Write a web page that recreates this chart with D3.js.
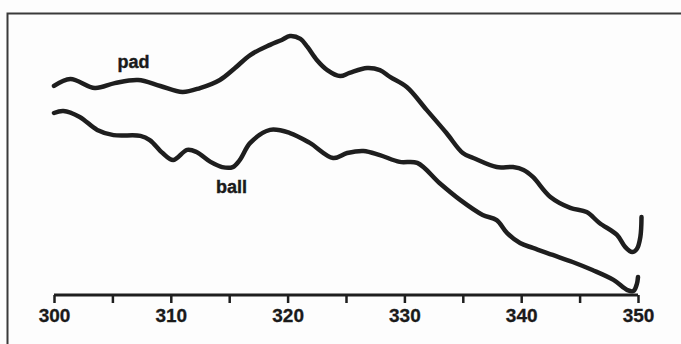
<!DOCTYPE html>
<html lang="en">
<head>
    <meta charset="UTF-8">
    <title>pad / ball spectra</title>
    <style>
        body, html {
            margin: 0;
            padding: 0;
            background: #fdfdfd;
            overflow: hidden;
        }
        svg { display: block; }
        .trace {
            fill: none;
            stroke: #1e1e1e;
            stroke-width: 4.5px;
            stroke-linejoin: round;
            stroke-linecap: round;
        }
        .label {
            font-family: 'Liberation Sans', Arial, sans-serif;
            font-weight: bold;
            font-size: 18px;
            fill: #1a1a1a;
            stroke: #1a1a1a;
            stroke-width: 0.4px;
        }
        .axis text {
            font-family: 'Liberation Sans', Arial, sans-serif;
            font-weight: bold;
            font-size: 19px;
            fill: #1a1a1a;
            stroke: #1a1a1a;
            stroke-width: 0.3px;
        }
    </style>
</head>
<body>
<div id="chart"></div>
<script src="https://d3js.org/d3.v7.min.js"></script>
<script>
    // wavelength (x) and relative signal (y)
    const padX = [300.0, 301.4, 303.5, 305.2, 307.2, 309.1, 311.0, 312.5, 314.2, 315.5,
                  316.8, 318.5, 319.5, 320.2, 321.1, 321.7, 322.5, 323.4, 324.5, 325.3,
                  326.8, 327.9, 328.8, 330.2, 331.9, 333.6, 335.0, 335.9, 337.9, 339.3,
                  340.2, 341.0, 342.5, 344.2, 345.6, 346.7, 348.2, 348.9, 349.5, 349.9,
                  350.2, 350.3];
    const padY = [80.4, 83.1, 79.6, 81.5, 82.7, 80.4, 78.1, 79.6, 82.7, 87.3,
                  92.3, 96.2, 98.1, 99.6, 98.5, 95.4, 90.4, 86.5, 84.2, 85.4,
                  87.3, 86.5, 83.8, 80.0, 71.2, 62.3, 54.6, 52.7, 49.2, 49.2,
                  48.1, 45.4, 37.7, 33.5, 31.9, 27.7, 23.1, 18.5, 16.5, 17.7,
                  22.3, 30.0];

    const ballX = [300.0, 300.8, 302.2, 303.7, 305.1, 307.4, 308.2, 309.3, 310.2, 311.4,
                   312.2, 313.4, 314.4, 315.3, 315.9, 316.8, 318.5, 320.2, 321.9, 323.9,
                   325.1, 326.5, 327.9, 329.6, 331.1, 333.0, 334.8, 336.7, 337.9, 338.8,
                   339.9, 341.0, 342.7, 344.4, 346.1, 347.9, 349.1, 349.6, 349.9, 350.0];
    const ballY = [70.0, 70.8, 68.5, 63.5, 61.5, 61.2, 59.6, 54.6, 51.9, 55.8,
                   55.0, 51.2, 49.2, 49.2, 51.9, 58.5, 63.5, 62.3, 58.5, 52.7,
                   54.6, 55.4, 53.8, 51.2, 50.8, 43.1, 36.5, 30.8, 28.8, 23.8,
                   20.0, 18.1, 15.4, 12.7, 9.6, 5.8, 1.9, 1.5, 4.2, 6.9];

    const tickValues = [300, 310, 320, 330, 340, 350];
    const minorTicks = [305, 315, 325, 335, 345];

    // label anchors in data units
    const labels = [
        {text: "pad", x: 306.8, y: 87.3},
        {text: "ball", x: 315.2, y: 39.2}
    ];

    const width = 681, height = 344;

    const svg = d3.select("#chart")
        .append("svg")
        .attr("width", width)
        .attr("height", height);

    const x = d3.scaleLinear().domain([300, 350]).range([54, 638]);
    const y = d3.scaleLinear().domain([0, 100]).range([295, 35]);

    // frame (top and left edges only show in the picture)
    svg.append("path")
        .attr("d", `M7.5,${height} L7.5,13.5 L${width},13.5`)
        .attr("fill", "none")
        .attr("stroke", "#3a3a3a")
        .attr("stroke-width", 2);

    const line = d3.line()
        .x(d => x(d[0]))
        .y(d => y(d[1]))
        .curve(d3.curveCatmullRom.alpha(0.5));

    const series = [
        d3.zip(padX, padY),
        d3.zip(ballX, ballY)
    ];

    svg.selectAll(".trace")
        .data(series)
        .join("path")
        .attr("class", "trace")
        .attr("d", line);

    // bottom axis with minor ticks
    const axisG = svg.append("g")
        .attr("class", "axis")
        .attr("transform", `translate(0, ${y(0)})`)
        .call(d3.axisBottom(x)
            .tickValues(tickValues.concat(minorTicks))
            .tickSize(8)
            .tickFormat(d => tickValues.includes(d) ? d : ""));

    axisG.select(".domain")
        .attr("stroke", "#1e1e1e")
        .attr("stroke-width", 3)
        .attr("d", `M${x(300)},0H${x(350)}`);
    axisG.selectAll(".tick line")
        .attr("stroke", "#1e1e1e")
        .attr("stroke-width", 2.5);
    axisG.selectAll(".tick text")
        .attr("y", 14);

    svg.selectAll(".label")
        .data(labels)
        .join("text")
        .attr("class", "label")
        .attr("x", d => x(d.x))
        .attr("y", d => y(d.y))
        .attr("text-anchor", "middle")
        .text(d => d.text);
</script>
</body>
</html>
